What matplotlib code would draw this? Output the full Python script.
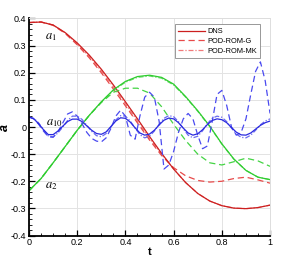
import matplotlib
matplotlib.use("Agg")
import matplotlib.pyplot as plt
from matplotlib.ticker import MultipleLocator

# ---- data ----
t_s = [0.00, 0.05, 0.10, 0.15, 0.20, 0.25, 0.30, 0.35, 0.40, 0.45, 0.50,
       0.55, 0.60, 0.65, 0.70, 0.75, 0.80, 0.85, 0.90, 0.95, 1.00]

a1_dns = [0.385, 0.387, 0.376, 0.348, 0.310, 0.265, 0.213, 0.155, 0.093, 0.030, -0.035,
          -0.097, -0.155, -0.205, -0.245, -0.273, -0.290, -0.299, -0.301, -0.297, -0.288]
a1_g = [0.385, 0.387, 0.375, 0.345, 0.303, 0.255, 0.200, 0.140, 0.078, 0.015, -0.048,
        -0.105, -0.150, -0.180, -0.197, -0.203, -0.200, -0.190, -0.185, -0.195, -0.207]
a1_mk = [0.385, 0.387, 0.376, 0.347, 0.306, 0.260, 0.207, 0.148, 0.086, 0.022, -0.042,
         -0.100, -0.155, -0.205, -0.245, -0.273, -0.290, -0.299, -0.301, -0.297, -0.288]

a2_dns = [-0.235, -0.190, -0.132, -0.072, -0.012, 0.043, 0.093, 0.137, 0.168, 0.186, 0.191,
          0.183, 0.158, 0.112, 0.060, 0.003, -0.062, -0.118, -0.160, -0.185, -0.194]
a2_g = [-0.235, -0.190, -0.132, -0.072, -0.012, 0.043, 0.090, 0.128, 0.143, 0.143, 0.125,
        0.075, 0.010, -0.050, -0.100, -0.132, -0.140, -0.128, -0.115, -0.125, -0.145]
a2_mk = [-0.235, -0.190, -0.132, -0.072, -0.012, 0.043, 0.092, 0.135, 0.165, 0.183, 0.188,
         0.180, 0.155, 0.110, 0.058, 0.001, -0.063, -0.119, -0.160, -0.185, -0.194]

t_f = [0.00, 0.02, 0.04, 0.06, 0.08, 0.10, 0.12, 0.14, 0.16, 0.18, 0.20,
       0.22, 0.24, 0.26, 0.28, 0.30, 0.32, 0.34, 0.36, 0.38, 0.40,
       0.42, 0.44, 0.46, 0.48, 0.50, 0.52, 0.54, 0.56, 0.58, 0.60,
       0.62, 0.64, 0.66, 0.68, 0.70, 0.72, 0.74, 0.76, 0.78, 0.80,
       0.82, 0.84, 0.86, 0.88, 0.90, 0.92, 0.94, 0.96, 0.98, 1.00]

a10_dns = [0.037, 0.030, 0.012, -0.010, -0.028, -0.028, -0.015, 0.003, 0.020, 0.029, 0.029,
           0.020, 0.004, -0.012, -0.024, -0.027, -0.018, 0.002, 0.022, 0.034, 0.032,
           0.018, -0.003, -0.022, -0.030, -0.026, -0.012, 0.008, 0.025, 0.033, 0.030,
           0.016, -0.004, -0.022, -0.030, -0.025, -0.010, 0.009, 0.024, 0.030, 0.027,
           0.016, -0.002, -0.019, -0.029, -0.030, -0.022, -0.008, 0.006, 0.016, 0.022]
a10_mk = [0.037, 0.032, 0.015, -0.010, -0.033, -0.036, -0.022, 0.000, 0.024, 0.040, 0.040,
          0.028, 0.006, -0.016, -0.032, -0.036, -0.024, 0.000, 0.026, 0.042, 0.040,
          0.022, -0.004, -0.028, -0.040, -0.034, -0.015, 0.010, 0.032, 0.042, 0.038,
          0.020, -0.006, -0.030, -0.040, -0.034, -0.014, 0.012, 0.032, 0.040, 0.036,
          0.020, -0.004, -0.026, -0.038, -0.040, -0.030, -0.012, 0.008, 0.022, 0.030]
a10_g = [0.037, 0.030, 0.010, -0.015, -0.036, -0.038, -0.018, 0.015, 0.048, 0.056, 0.040,
         0.012, -0.020, -0.042, -0.052, -0.055, -0.040, -0.005, 0.040, 0.062, 0.040,
         -0.030, -0.045, 0.040, 0.110, 0.128, 0.110, 0.020, -0.155, -0.140, -0.090,
         -0.020, 0.030, 0.050, 0.030, -0.030, -0.080, -0.070, 0.020, 0.120, 0.135,
         0.080, 0.000, -0.030, -0.020, 0.030, 0.120, 0.205, 0.240, 0.170, 0.050]

legend_labels = ["DNS", "POD-ROM-G", "POD-ROM-MK"]

# ---- styling ----
plt.rcParams['font.family'] = ['Liberation Sans', 'DejaVu Sans']
plt.rcParams['mathtext.fontset'] = 'stix'

fig = plt.figure(figsize=(2.91, 2.59), dpi=100)
ax = fig.add_axes([0.0997, 0.0907, 0.8283, 0.8379])

red_d, red_g, red_mk = '#cc1f1f', '#e84a4a', '#f07a7a'
grn_d, grn_g, grn_mk = '#2ecc2e', '#44d444', '#66dd66'
blu_d, blu_g, blu_mk = '#2a2adf', '#4a4af0', '#6a6af0'

lw = 0.9
dash = (0, (5, 3))
dashdot = (0, (4, 1.5, 1, 1.5))
ax.plot(t_s, a1_mk, color=red_mk, lw=lw, ls=dashdot)
ax.plot(t_s, a1_g, color=red_g, lw=lw, ls=dash)
ax.plot(t_s, a1_dns, color=red_d, lw=lw)

ax.plot(t_s, a2_mk, color=grn_mk, lw=lw, ls=dashdot)
ax.plot(t_s, a2_g, color=grn_g, lw=lw, ls=dash)
ax.plot(t_s, a2_dns, color=grn_d, lw=lw)

ax.plot(t_f, a10_mk, color=blu_mk, lw=lw, ls=dashdot)
ax.plot(t_f, a10_g, color=blu_g, lw=lw, ls=dash)
ax.plot(t_f, a10_dns, color=blu_d, lw=lw)

# legend proxies
h1, = ax.plot([], [], color=red_d, lw=lw)
h2, = ax.plot([], [], color=red_g, lw=lw, ls=dash)
h3, = ax.plot([], [], color=red_mk, lw=lw, ls=dashdot)
leg = ax.legend([h1, h2, h3], legend_labels, loc='upper right',
                bbox_to_anchor=(0.975, 0.99), fontsize=5.3, frameon=True,
                fancybox=False, framealpha=1, edgecolor='#888888',
                handlelength=3.6, handletextpad=0.3, borderpad=0.5,
                labelspacing=0.35)
leg.get_frame().set_linewidth(0.6)

ax.text(0.065, 0.325, r'$a_1$', fontsize=9)
ax.text(0.065, -0.227, r'$a_2$', fontsize=9)
ax.text(0.072, 0.005, r'$a_{10}$', fontsize=9)

ax.set_xlim(0, 1)
ax.set_ylim(-0.4, 0.4)
ax.xaxis.set_minor_locator(MultipleLocator(0.05))
ax.yaxis.set_minor_locator(MultipleLocator(0.02))
ax.set_xticks([0, 0.2, 0.4, 0.6, 0.8, 1.0])
ax.set_xticklabels(['0', '0.2', '0.4', '0.6', '0.8', '1'])
ax.set_yticks([-0.4, -0.3, -0.2, -0.1, 0, 0.1, 0.2, 0.3, 0.4])
ax.set_yticklabels(['-0.4', '-0.3', '-0.2', '-0.1', '0', '0.1', '0.2', '0.3', '0.4'])

ax.tick_params(which='both', direction='in', labelsize=6.5, pad=2,
               top=False, right=False)
ax.tick_params(which='major', length=4, width=0.9)
ax.tick_params(which='minor', length=2, width=0.6)

ax.grid(True, which='major', color='#e3e3e3', lw=0.7)
ax.set_axisbelow(True)
for s in ['top', 'right']:
    ax.spines[s].set_color('#dddddd')
    ax.spines[s].set_linewidth(0.7)
for s in ['left', 'bottom']:
    ax.spines[s].set_color('black')
    ax.spines[s].set_linewidth(1.3)

ax.set_xlabel('t', fontsize=8, fontweight='bold', labelpad=0)
ax.set_ylabel('a', fontsize=9, fontweight='bold', fontstyle='italic')
ax.yaxis.set_label_coords(-0.075, 0.5)

fig.savefig('out.png', dpi=100)
